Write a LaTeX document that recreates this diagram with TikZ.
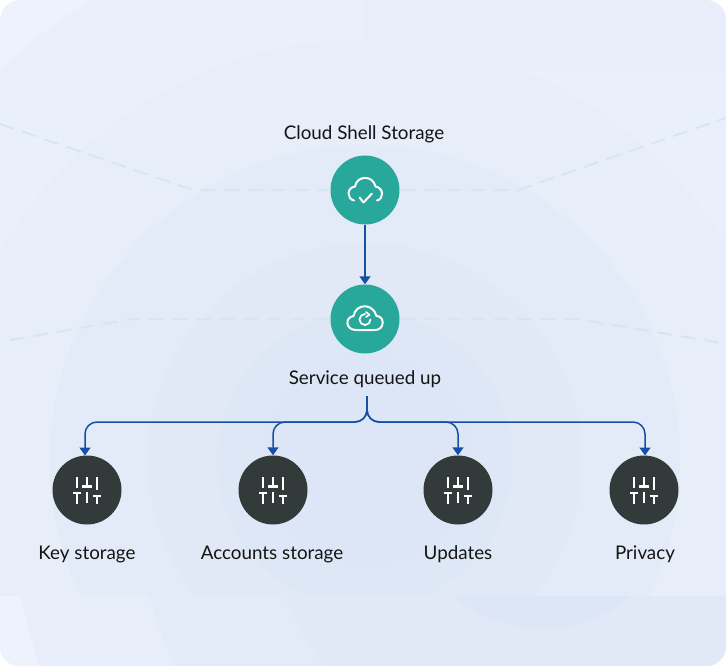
\documentclass[tikz,border=0pt]{standalone}
\usepackage{fontspec}
\setmainfont{Lato}
\usetikzlibrary{arrows.meta}
\definecolor{bgcorner}{HTML}{EEF2FC}
\definecolor{bglight}{HTML}{EAF0FB}
\definecolor{ringa}{HTML}{E7EDF9}
\definecolor{ringb}{HTML}{E4EBF8}
\definecolor{ringc}{HTML}{E1E9F7}
\definecolor{ringd}{HTML}{DEE7F6}
\definecolor{ringe}{HTML}{DCE6F6}
\definecolor{tealfill}{HTML}{28A79B}
\definecolor{darkfill}{HTML}{333B3A}
\definecolor{linkblue}{HTML}{174EA6}
\definecolor{dashgrey}{HTML}{DAE3F0}
\tikzset{
    tealdot/.style={circle,fill=tealfill,minimum size=69,inner sep=0},
    darkdot/.style={circle,fill=darkfill,minimum size=69,inner sep=0},
    caption/.style={font=\fontsize{18.8}{22}\selectfont,text=black!92,inner sep=0},
    guide/.style={dashgrey,line width=1.8,dash pattern=on 15 off 8.5},
    link/.style={linkblue,line width=1.5,-{Triangle[length=8,width=11]},rounded corners=12},
    icon/.style={white,line width=2,line cap=round,line join=round}
}
% three sliders, centred on the node
\newcommand{\slidersicon}[1]{
    \draw[white,line width=2.3,shift={(#1)}] (-10,-13)--(-10,-2) (-14,3)--(-6,3) (-10,3)--(-10,14)
        (0,-13)--(0,-3.5) (-5,-3.5)--(5,-3.5) (0,2)--(0,13)
        (10,-13)--(10,0) (6,6)--(14,6) (10,6)--(10,14);
}
\begin{document}
\begin{tikzpicture}[x=1pt,y=-1pt]
    \useasboundingbox (0,0) rectangle (726,666);
    \begin{scope}
        \clip[rounded corners=20] (0,0) rectangle (726,666);
        \fill[bgcorner] (0,0) rectangle (726,666);
        \fill[bglight] (365,460) circle (535);
        \fill[ringa] (365,460) circle (420);
        \fill[ringa] (363,0) rectangle (726,72);
        \fill[ringb] (365,460) circle (315);
        \fill[ringc] (365,460) circle (217);
        \fill[ringd] (365,460) circle (148);
        \fill[ringe] (367,460) circle (107);
        %bottom band
        \fill[bgcorner] (0,596) rectangle (726,666);
        \begin{scope}
            \clip (0,596) rectangle (726,666);
            \fill[ringa] (544,492) circle (533);
            \fill[ringb] (544,492) circle (408);
            \fill[ringc] (544,492) circle (280);
            \fill[ringe] (542,492.5) circle (136.5);
        \end{scope}
    \end{scope}

    %dashed guides
    \draw[guide] (0,124)--(193,190)--(330,190);
    \draw[guide] (400,190)--(518,190)--(740,113);
    \draw[guide] (10,340)--(133,319)--(330,319);
    \draw[guide] (400,319)--(576,319)--(740,346);

    %nodes
    \node[tealdot] (cloud) at (365,190) {};
    \node[tealdot] (queue) at (365,319) {};
    \node[darkdot] (key) at (87,490) {};
    \node[darkdot] (accounts) at (273,490) {};
    \node[darkdot] (updates) at (458,490) {};
    \node[darkdot] (privacy) at (644,490) {};

    %labels
    \node[caption] (cloudlabel) at (364,134) {Cloud Shell Storage};
    \node[caption] (queuelabel) at (365,379) {Service queued up};
    \node[caption] (keylabel) at (87,554) {Key storage};
    \node[caption] (accountslabel) at (272,554) {Accounts storage};
    \node[caption] (updateslabel) at (458,554) {Updates};
    \node[caption] (privacylabel) at (645,554) {Privacy};

    %links
    \coordinate (fork) at (367,396);
    \draw[link,rounded corners=0] (cloud)--(queue);
    \draw[link] (fork)--(367,422)--(85,422)--(85,455.5);
    \draw[link] (fork)--(367,422)--(273,422)--(accounts);
    \draw[link] (fork)--(367,422)--(458,422)--(updates);
    \draw[link] (fork)--(367,422)--(645,422)--(645,455.5);

    %cloud icons
    \draw[icon] (354,200.5) .. controls (347,199) and (346,188) .. (355,186.5) .. controls (357,175) and (373,175) .. (375.5,186.5) .. controls (384,188) and (384,199) .. (377,200.5);
    \draw[icon] (359.5,197.5)--(363.5,202.5)--(372,193.5);
    \draw[icon] (356,330)--(375,330) .. controls (385,330) and (385,316) .. (376.5,316) .. controls (373,303) and (356,303) .. (353.5,316) .. controls (345,317) and (345,330) .. (356,330);
    \draw[icon,line width=1.8] (370.5,319.5) arc (0:270:5.5);
    \draw[icon,line width=1.6] (366,312)--(369.5,314.8)--(366,317);

    %slider icons
    \slidersicon{87,490}
    \slidersicon{273,490}
    \slidersicon{458,490}
    \slidersicon{644,490}
\end{tikzpicture}
\end{document}
